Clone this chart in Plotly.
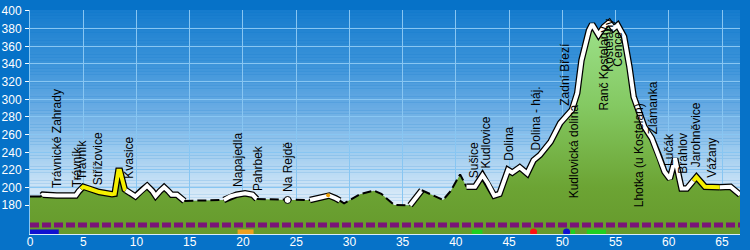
import numpy as np
import plotly.graph_objects as go

# ---------------- data ----------------
dist_km = [0.0, 1.0, 1.2, 2.5, 4.3, 4.6, 5.0, 5.5, 6.5, 7.7, 7.95, 8.3, 8.45, 8.9, 9.1,
           9.4, 9.9, 10.5, 11.0, 11.5, 11.8, 12.2, 12.6, 13.0, 13.3, 13.8, 14.5, 18.2,
           18.8, 19.4, 20.2, 20.9, 21.3, 24.2, 26.3, 27.1, 28.1, 28.7, 29.1, 29.5, 31.0,
           32.3, 33.0, 34.2, 35.5, 35.7, 36.8, 38.8, 39.5, 40.4, 41.0, 41.8, 42.5, 43.0,
           43.6, 44.1, 44.9, 45.3, 46.0, 46.7, 47.3, 47.9, 48.9, 49.8, 50.9, 51.4, 51.8,
           52.5, 52.8, 53.4, 53.9, 54.4, 54.8, 55.2, 55.8, 56.3, 56.7, 57.7, 58.4, 59.1,
           59.6, 60.1, 60.6, 61.0, 61.2, 61.7, 62.6, 63.4, 64.7, 65.8, 66.7]
elev_m = [190, 190, 192, 191, 191, 196, 201, 199, 195, 192.5, 193, 219, 219, 198, 196,
          194, 190, 197, 202, 196, 190.5, 196, 200.5, 196, 192, 192, 185, 186,
          190, 192, 193.6, 192, 187, 186, 186, 188.7, 191, 188, 185.3, 182.3, 192.5,
          196.6, 193, 180.4, 180, 180, 197, 186, 196, 215, 201, 201, 214, 205,
          191, 193, 220, 217, 223, 216, 231, 237, 252, 273, 288, 307, 344,
          378, 385, 373, 382, 387, 380, 384, 371, 337, 303, 269, 256, 235,
          218, 210, 233, 210, 199, 199, 212, 201, 200.5, 201, 192]

label_names = ["Trávnické Zahrady", "Trávník", "Trávník", "Střížovice", "Kvasice",
               "Napajedla", "Pahrbek", "Na Rejdě", "Sušice", "Kudlovice", "Dolina",
               "Dolina - háj.", "Zadní Březí", "Kudlovická dolina", "Ranč Kostelany",
               "Kostelany", "Cence", "Lhotka (u Kostelan)", "Zlámanka", "Lučák",
               "Brahlov", "Jarohněvice", "Vážany"]
label_km = [2.55, 4.43, 4.9, 6.46, 9.28, 19.6, 21.34, 24.3, 41.7, 42.8, 45.0,
            47.5, 50.3, 51.1, 53.9, 54.4, 55.25, 57.2, 58.6, 60.0, 61.26, 62.5, 64.1]
label_base = [198, 199, 207, 202, 208.7, 199.3, 195.4, 193.6, 209.4, 220, 229.4,
              240.7, 291.6, 186.8, 286, 329.8, 335.5, 176.6, 259.6, 223.7, 214.3,
              221.9, 210.6]

seg_start = [0.0, 1.1, 4.8, 9.0, 14.5, 18.2, 21.3, 26.3, 29.1, 35.7, 36.8, 41.0, 62.3, 64.8]
seg_end = [1.1, 4.8, 9.0, 14.5, 18.2, 21.3, 26.3, 29.1, 35.7, 36.8, 41.0, 62.3, 64.8, 66.7]
seg_kind = ["plain", "white", "yellow", "white", "dash", "white", "dash", "white",
            "dash", "white", "dash", "white", "yellow", "white"]

bar_start = [0.0, 19.5, 41.5, 50.8, 52.3]
bar_end = [2.7, 21.0, 42.5, 51.2, 54.1]
bar_color = ["#1010d0", "#f0a020", "#20d020", "#20d020", "#20d020"]
dot_km = [47.3, 50.4]
dot_color = ["#ff1010", "#1010d0"]
stop_km = [24.2]
stop_elev = [186]
small_km = [28.0]
small_elev = [191.5]

x_max = 66.69
y_min, y_max = 147.5, 401.1
purple_level = 157.7
bar_level = 149.8

fig = go.Figure()

# background gradient as bands
bg_stops_e = [180, 240, 290, 340, 401.1]
bg_stops_c = [(228, 240, 250), (160, 205, 240), (105, 172, 228), (60, 148, 218), (22, 124, 206)]
nb = 80
edges = np.linspace(y_min, y_max, nb + 1)
shapes = []
for i in range(nb):
    mid = (edges[i] + edges[i + 1]) / 2
    c = [int(np.interp(mid, bg_stops_e, [s[k] for s in bg_stops_c])) for k in range(3)]
    shapes.append(dict(type="rect", xref="paper", yref="y", x0=0, x1=1,
                       y0=edges[i], y1=edges[i + 1] + 0.3, layer="below",
                       fillcolor=f"rgb({c[0]},{c[1]},{c[2]})", line=dict(width=0)))

# terrain fill
fig.add_trace(go.Scatter(x=dist_km, y=elev_m, mode="lines", fill="tozeroy",
                         line=dict(width=0, color="rgba(0,0,0,0)"),
                         fillgradient=dict(type="vertical", start=y_min, stop=390,
                                           colorscale=[[0, "#669a2c"], [0.22, "#6ca434"],
                                                       [0.6, "#84c962"], [1, "#9ee28c"]]),
                         hoverinfo="skip", showlegend=False))

dx = np.array(dist_km, float)
dy = np.array(elev_m, float)


def piece(a, b):
    inner = (dx > a) & (dx < b)
    xs = [a] + list(dx[inner]) + [b]
    ys = [np.interp(a, dx, dy)] + list(dy[inner]) + [np.interp(b, dx, dy)]
    return xs, ys


for a, b, k in zip(seg_start, seg_end, seg_kind):
    xs, ys = piece(a, b)
    if k in ("white", "yellow"):
        fig.add_trace(go.Scatter(x=xs, y=ys, mode="lines",
                                 line=dict(color="black", width=6.5),
                                 hoverinfo="skip", showlegend=False))
        fig.add_trace(go.Scatter(x=xs, y=ys, mode="lines",
                                 line=dict(color="white" if k == "white" else "#f5f000", width=4),
                                 hoverinfo="skip", showlegend=False))
    elif k == "dash":
        fig.add_trace(go.Scatter(x=xs, y=ys, mode="lines",
                                 line=dict(color="black", width=2, dash="9px,4px"),
                                 hoverinfo="skip", showlegend=False))
    else:
        fig.add_trace(go.Scatter(x=xs, y=ys, mode="lines",
                                 line=dict(color="black", width=2),
                                 hoverinfo="skip", showlegend=False))

fig.add_trace(go.Scatter(x=stop_km, y=stop_elev, mode="markers",
                         marker=dict(color="white", size=7, line=dict(color="black", width=1)),
                         hoverinfo="skip", showlegend=False))
fig.add_trace(go.Scatter(x=small_km, y=small_elev, mode="markers",
                         marker=dict(color="#f0a000", size=4),
                         hoverinfo="skip", showlegend=False))

# bottom strips
fig.add_trace(go.Scatter(x=[0, x_max], y=[purple_level, purple_level], mode="lines",
                         line=dict(color="#7a1478", width=5, dash="9px,3px"),
                         hoverinfo="skip", showlegend=False))
for a, b, c in zip(bar_start, bar_end, bar_color):
    fig.add_trace(go.Scatter(x=[a, b], y=[bar_level, bar_level], mode="lines",
                             line=dict(color=c, width=5),
                             hoverinfo="skip", showlegend=False))
fig.add_trace(go.Scatter(x=dot_km, y=[bar_level] * len(dot_km), mode="markers",
                         marker=dict(color=dot_color, size=7),
                         hoverinfo="skip", showlegend=False))

annotations = []
for n, k, b in zip(label_names, label_km, label_base):
    annotations.append(dict(x=k, y=b, text=n, textangle=-90, showarrow=False,
                            xanchor="center", yanchor="bottom", borderpad=0,
                            font=dict(family="Arial, Liberation Sans", size=12, color="black")))

grid_c = "#88c6f2"
fig.update_layout(
    width=750, height=250,
    margin=dict(l=30, r=10, t=10, b=16, autoexpand=False),
    paper_bgcolor="#0672c8",
    plot_bgcolor="#0672c8",
    shapes=shapes,
    annotations=annotations,
    showlegend=False,
    xaxis=dict(range=[0, x_max], tickmode="array", tickvals=list(range(0, 70, 5)),
               showgrid=True, gridcolor=grid_c, gridwidth=1, zeroline=False,
               showline=True, linecolor="#d8ecfa", linewidth=1, automargin=False,
               ticks="", ticklabelstandoff=-3,
               tickfont=dict(family="Arial, Liberation Sans", size=12, color="white")),
    yaxis=dict(range=[y_min, y_max], tickmode="array", tickvals=list(range(180, 420, 20)),
               showgrid=True, gridcolor=grid_c, gridwidth=1, zeroline=False,
               showline=True, linecolor=grid_c, linewidth=1, automargin=False,
               ticks="outside", ticklen=4, tickcolor="white", ticklabelstandoff=1,
               tickfont=dict(family="Arial, Liberation Sans", size=12, color="white")),
)

fig.write_html("out.html")
